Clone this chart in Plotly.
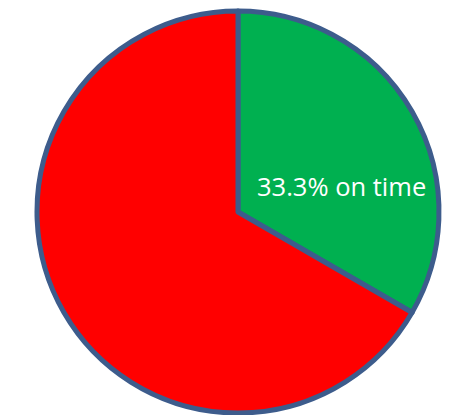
import plotly.graph_objects as go

labels = ["on time", "late"]
values = [1, 2]
colors = ["#00B050", "#FF0000"]

# page has an 8px body margin, so the figure is drawn 8px in from the window edge
W, H = 448, 407
cx, cy, r = 230, 204, 201  # pie centre / radius in figure pixels (from top-left)
total = sum(values)
pct = values[0] / total * 100

fig = go.Figure(go.Pie(
    labels=labels,
    values=values,
    sort=False,
    direction="clockwise",
    rotation=0,
    textinfo="none",
    hoverinfo="label+percent",
    marker=dict(colors=colors, line=dict(color="#3D5C8C", width=5)),
    domain=dict(x=[(cx - r) / W, (cx + r) / W],
                y=[(H - cy - r) / H, (H - cy + r) / H]),
    showlegend=False,
))

fig.add_annotation(
    x=333 / W, y=(H - 178) / H, xref="paper", yref="paper",
    text=f"{pct:.1f}% {labels[0]}", showarrow=False,
    font=dict(family="Open Sans", size=25.5, color="white"),
    xanchor="center", yanchor="middle",
)

fig.update_layout(
    width=W, height=H,
    margin=dict(l=0, r=0, t=0, b=0),
    paper_bgcolor="white", plot_bgcolor="white",
)

fig.write_html("out.html")
